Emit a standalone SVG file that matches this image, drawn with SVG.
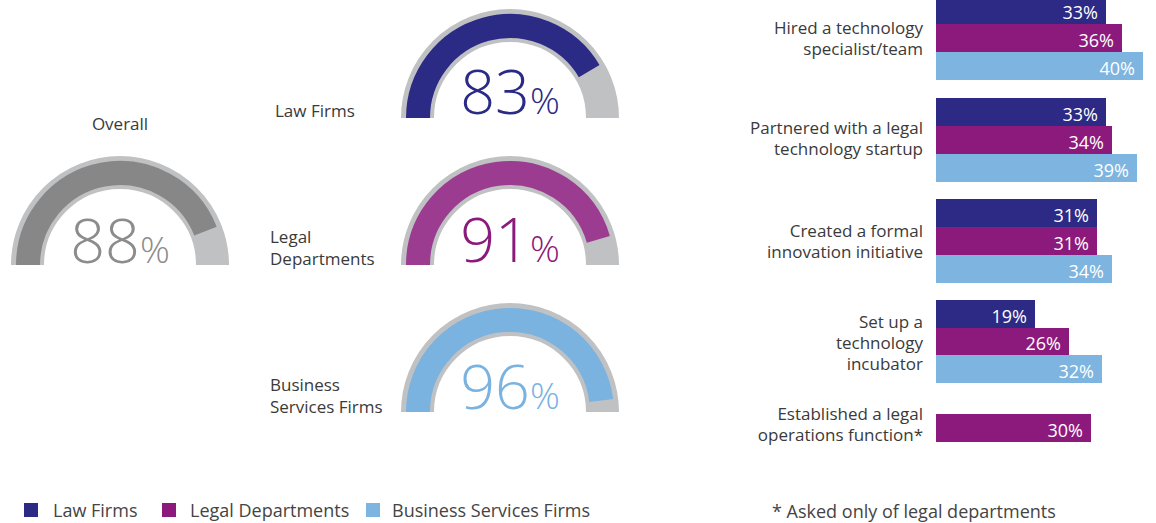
<svg xmlns="http://www.w3.org/2000/svg" width="1156" height="523" viewBox="0 0 1156 523">
<style>
.lbl{font-family:"Open Sans","Noto Sans",sans-serif;font-size:17px;fill:#3a3a3a}
.r{text-anchor:end}
.ring{fill:none;stroke:#c0c1c3;stroke-width:33}
.arc{fill:none;stroke-width:24}
.num{font-family:"Open Sans","Noto Sans",sans-serif;font-size:61px;font-weight:300;text-anchor:middle}
.pct{font-size:37px}
.bv{font-family:"Open Sans","Noto Sans",sans-serif;font-size:18px;fill:#ffffff;text-anchor:end}
.lf{fill:#2c2a84}.ld{fill:#8c1a7c}.bs{fill:#7db4e0}
.leg{font-family:"Open Sans","Noto Sans",sans-serif;font-size:18px;fill:#444444}
</style>
<rect width="1156" height="523" fill="#ffffff"/>

<g id="gauge-overall">
<text class="lbl" x="120" y="130" text-anchor="middle">Overall</text>
<path class="ring" d="M27.5 265 A92.5 92.5 0 0 1 212.5 265"/>
<path class="arc" stroke="#878787" d="M28 265 A92 92 0 0 1 205.54 231.13"/>
<text class="num" x="120" y="263" fill="#8c8c8c">88<tspan class="pct">%</tspan></text>
</g>

<g id="gauge-law">
<text class="lbl" x="275" y="117">Law Firms</text>
<path class="ring" d="M417.5 118 A92.5 92.5 0 0 1 602.5 118"/>
<path class="arc" stroke="#2b2a85" d="M418 118 A92 92 0 0 1 589.18 71.17"/>
<text class="num" x="510" y="114" fill="#2b2a85">83<tspan class="pct">%</tspan></text>
</g>

<g id="gauge-legal">
<text class="lbl" x="270" y="243">Legal</text>
<text class="lbl" x="270" y="265">Departments</text>
<path class="ring" d="M417.5 265 A92.5 92.5 0 0 1 602.5 265"/>
<path class="arc" stroke="#9b3c91" d="M418 265 A92 92 0 0 1 598.35 239.33"/>
<text class="num" x="510" y="262" fill="#8a1b7b">91<tspan class="pct">%</tspan></text>
</g>

<g id="gauge-business">
<text class="lbl" x="270" y="391">Business</text>
<text class="lbl" x="270" y="413">Services Firms</text>
<path class="ring" d="M417.5 412 A92.5 92.5 0 0 1 602.5 412"/>
<path class="arc" stroke="#7ab2e0" d="M418 412 A92 92 0 0 1 601.28 400.47"/>
<text class="num" x="510" y="409" fill="#7ab3e0">96<tspan class="pct">%</tspan></text>
</g>

<g id="bars-hired">
<text class="lbl r" x="923" y="34">Hired a technology</text>
<text class="lbl r" x="923" y="55">specialist/team</text>
<rect class="lf" x="936" y="-4" width="170" height="28"/>
<rect class="ld" x="936" y="24" width="186" height="28"/>
<rect class="bs" x="936" y="52" width="207" height="28"/>
<text class="bv" x="1098" y="19">33%</text>
<text class="bv" x="1114" y="47">36%</text>
<text class="bv" x="1135" y="75">40%</text>
</g>

<g id="bars-partnered">
<text class="lbl r" x="923" y="134">Partnered with a legal</text>
<text class="lbl r" x="923" y="155">technology startup</text>
<rect class="lf" x="936" y="98" width="170" height="28"/>
<rect class="ld" x="936" y="126" width="176" height="28"/>
<rect class="bs" x="936" y="154" width="201" height="28"/>
<text class="bv" x="1098" y="121">33%</text>
<text class="bv" x="1104" y="149">34%</text>
<text class="bv" x="1129" y="177">39%</text>
</g>

<g id="bars-created">
<text class="lbl r" x="923" y="237">Created a formal</text>
<text class="lbl r" x="923" y="258">innovation initiative</text>
<rect class="lf" x="936" y="199" width="161" height="28"/>
<rect class="ld" x="936" y="227" width="161" height="28"/>
<rect class="bs" x="936" y="255" width="176" height="28"/>
<text class="bv" x="1089" y="222">31%</text>
<text class="bv" x="1089" y="250">31%</text>
<text class="bv" x="1104" y="278">34%</text>
</g>

<g id="bars-incubator">
<text class="lbl r" x="923" y="328">Set up a</text>
<text class="lbl r" x="923" y="349">technology</text>
<text class="lbl r" x="923" y="370">incubator</text>
<rect class="lf" x="936" y="300" width="99" height="28"/>
<rect class="ld" x="936" y="328" width="133" height="27"/>
<rect class="bs" x="936" y="355" width="166" height="28"/>
<text class="bv" x="1027" y="323">19%</text>
<text class="bv" x="1061" y="350">26%</text>
<text class="bv" x="1094" y="378">32%</text>
</g>

<g id="bars-operations">
<text class="lbl r" x="923" y="420">Established a legal</text>
<text class="lbl r" x="923" y="441">operations function*</text>
<rect class="ld" x="936" y="414" width="155" height="28"/>
<text class="bv" x="1083" y="437">30%</text>
</g>

<g id="legend">
<rect class="lf" x="24" y="503" width="14" height="14"/>
<text class="leg" x="53" y="517">Law Firms</text>
<rect class="ld" x="162" y="503" width="14" height="14"/>
<text class="leg" x="190" y="517">Legal Departments</text>
<rect class="bs" x="366" y="503" width="14" height="14"/>
<text class="leg" x="392" y="517">Business Services Firms</text>
</g>

<text class="leg" x="772" y="518">* Asked only of legal departments</text>
<g id="connectors"/>
</svg>
